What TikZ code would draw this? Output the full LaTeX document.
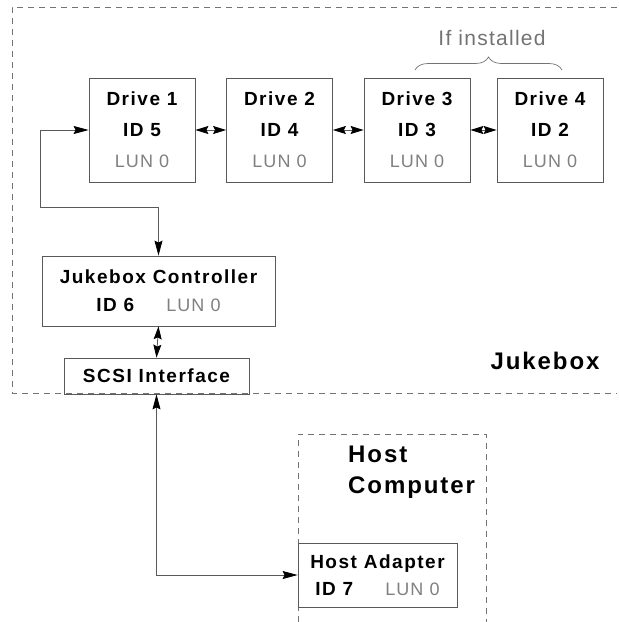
\documentclass[tikz,border=0pt]{standalone}
\usepackage{fontspec}
\setmainfont{Liberation Sans}
\newfontfamily\labelfont[LetterSpace=8]{Liberation Sans}
\newfontfamily\thinfont[LetterSpace=6]{Liberation Sans}
\usetikzlibrary{arrows.meta,decorations.pathreplacing}

% thin grey "LUN 0" annotation
\newcommand{\lunlabel}[1]{{\thinfont\mdseries\fontsize{18}{31}\selectfont\color{black!50}#1}}

\tikzset{
  box/.style={draw=black!65, line width=0.8pt, rectangle, inner sep=0pt,
    align=center, text=black},
  drivebox/.style={box, minimum width=106pt, minimum height=104pt,
    font=\labelfont\fontsize{19}{31}\selectfont\bfseries},
  ctrlbox/.style={box, minimum width=233pt, minimum height=70pt,
    font=\labelfont\fontsize{19}{28}\selectfont\bfseries},
  scsibox/.style={box, minimum width=185pt, minimum height=36pt,
    font=\labelfont\fontsize{19}{28}\selectfont\bfseries},
  hostbox/.style={box, minimum width=159pt, minimum height=64pt,
    font=\labelfont\fontsize{19}{27}\selectfont\bfseries},
  biglabel/.style={inner sep=0pt, font=\labelfont\fontsize{24}{31}\selectfont\bfseries},
  dashline/.style={draw=black!55, line width=0.8pt, dash pattern=on 6pt off 5pt},
  tip/.style={arrows={Stealth[length=#1,width=8pt,inset=2pt,color=black]-Stealth[length=#1,width=8pt,inset=2pt,color=black]}},
  link/.style={draw=black!65, line width=0.8pt, tip=15pt},
  shortlink/.style={draw=black!65, line width=0.8pt, tip=13pt},
}

\begin{document}
\begin{tikzpicture}[x=1pt,y=-1pt]
  \useasboundingbox (0,0) rectangle (619,622);

  % jukebox enclosure (open on the right)
  \draw[dashline] (617,7) -- (12,7) -- (12,393) -- (617,393);
  \node[biglabel] (jukebox) at (545,361) {Jukebox};

  % drives
  \node[drivebox] (d1) at (142,130) {Drive 1\\ID 5\\\lunlabel{LUN 0}};
  \node[drivebox] (d2) at (279.5,130) {Drive 2\\ID 4\\\lunlabel{LUN 0}};
  \node[drivebox] (d3) at (417,130) {Drive 3\\ID 3\\\lunlabel{LUN 0}};
  \node[drivebox] (d4) at (550,130) {Drive 4\\ID 2\\\lunlabel{LUN 0}};

  \draw[shortlink] (d1) -- (d2);
  \draw[shortlink] (d2) -- (d3);
  \draw[shortlink] (d3) -- (d4);

  % optional drives marker
  \coordinate (braceL) at (415,70);
  \coordinate (braceR) at (562,70);
  \draw[black!55, line width=0.7pt, decorate,
        decoration={brace, amplitude=13pt, aspect=0.5}] (braceL) -- (braceR);
  \node[inner sep=0pt, text=black!55, font=\thinfont\fontsize{21}{25}\selectfont]
    (optional) at (492,38) {If installed};

  % controller and interface
  \node[ctrlbox] (ctrl) at (158.5,291)
    {Jukebox Controller\\ID 6\hspace{32pt}\lunlabel{LUN 0}};
  \node[scsibox] (scsi) at (156.5,376) {SCSI Interface};

  \coordinate (bend) at (40,207);
  \draw[link] (d1.west) -| (bend) -| (ctrl.north);
  \draw[shortlink] (ctrl.south) -- (scsi.north);

  % host computer
  \draw[dashline] (298,622) -- (298,434) -- (486,434) -- (486,622);
  \node[biglabel, align=left, anchor=west] (host) at (348,472) {Host\\Computer};
  \node[hostbox] (adapter) at (377.5,575)
    {Host Adapter\\ID 7\hspace{32pt}\lunlabel{LUN 0}};

  \draw[link] (scsi.south) |- (adapter.west);
\end{tikzpicture}
\end{document}
